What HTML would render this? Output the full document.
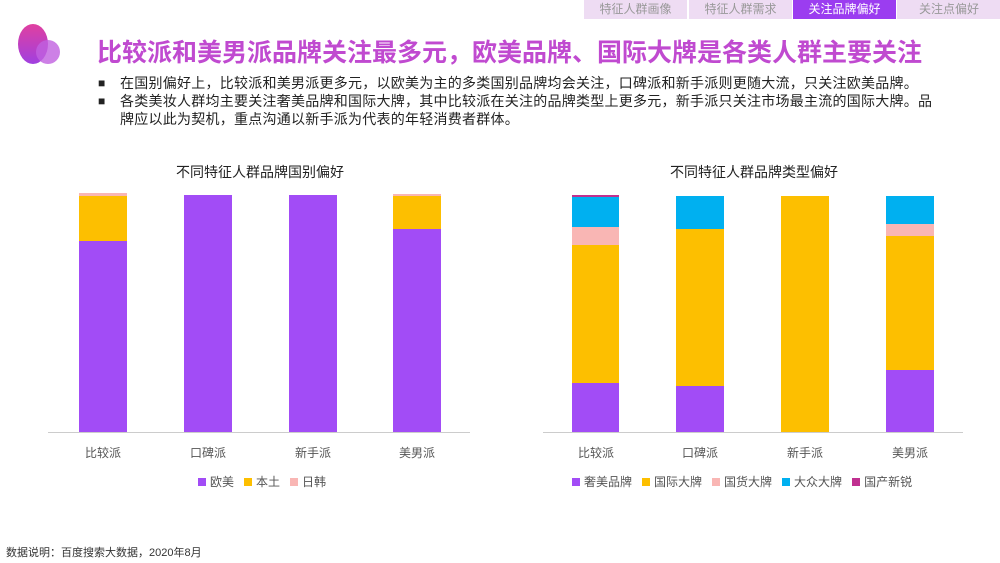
<!DOCTYPE html><html><head><meta charset="utf-8"><style>
body{margin:0;width:1000px;height:563px;background:#fff;position:relative;overflow:hidden;font-family:"Liberation Sans","Noto Sans CJK SC",sans-serif;}
.a{position:absolute}
.tab{position:absolute;top:0;height:19px;width:103px;background:#eedcf3;color:#999;font-size:12px;line-height:19px;text-align:center;border-left:1px solid #fff}
.b{position:absolute}
.lbl{position:absolute;font-size:12px;color:#555;width:80px;text-align:center;top:444px}
.leg{position:absolute;top:473px;font-size:12px;color:#555;white-space:nowrap}
.leg span{display:inline-block;width:8px;height:8px;margin:0 4px 0 10px}
.bl{position:relative;padding-left:22px}
.bl i{position:absolute;left:0;top:0;font-style:normal;font-size:12px}
</style></head><body>
<div class="tab" style="left:583px">特征人群画像</div>
<div class="tab" style="left:688px">特征人群需求</div>
<div class="tab" style="left:792px;background:#9b3df0;color:#fff">关注品牌偏好</div>
<div class="tab" style="left:896px;width:104px">关注点偏好</div>
<div class="a" style="left:18px;top:24px;width:30px;height:40px;border-radius:50%;background:linear-gradient(#e040a0,#a040e0)"></div>
<div class="a" style="left:36px;top:40px;width:24px;height:24px;border-radius:50%;background:#c060e0;opacity:.8"></div>
<div class="a" style="left:97px;top:33px;font-size:25px;font-weight:bold;color:#c04ad0;white-space:nowrap">比较派和美男派品牌关注最多元，欧美品牌、国际大牌是各类人群主要关注</div>
<div class="a" style="left:98px;top:74px;font-size:14px;letter-spacing:0.25px;color:#222;line-height:18px;width:862px">
<div class="bl"><i>■</i>在国别偏好上，比较派和美男派更多元，以欧美为主的多类国别品牌均会关注，口碑派和新手派则更随大流，只关注欧美品牌。</div>
<div class="bl"><i>■</i>各类美妆人群均主要关注奢美品牌和国际大牌，其中比较派在关注的品牌类型上更多元，新手派只关注市场最主流的国际大牌。品<br>牌应以此为契机，重点沟通以新手派为代表的年轻消费者群体。</div></div>
<div class="a" style="left:0;width:520px;top:162px;text-align:center;font-size:14px;color:#222">不同特征人群品牌国别偏好</div>
<div class="a" style="left:494px;width:520px;top:162px;text-align:center;font-size:14px;color:#222">不同特征人群品牌类型偏好</div>
<div class="a" style="left:48px;top:432px;width:422px;height:1px;background:#ccc"></div>
<div class="a" style="left:543px;top:432px;width:420px;height:1px;background:#ccc"></div>
<div class="b" style="left:79px;top:241px;width:48px;height:191px;background:#a24cf6"></div>
<div class="b" style="left:79px;top:196px;width:48px;height:45px;background:#fdbf00"></div>
<div class="b" style="left:79px;top:193px;width:48px;height:3px;background:#f9b6b4"></div>
<div class="b" style="left:184px;top:195px;width:48px;height:237px;background:#a24cf6"></div>
<div class="b" style="left:289px;top:195px;width:48px;height:237px;background:#a24cf6"></div>
<div class="b" style="left:393px;top:229px;width:48px;height:203px;background:#a24cf6"></div>
<div class="b" style="left:393px;top:196px;width:48px;height:33px;background:#fdbf00"></div>
<div class="b" style="left:393px;top:194px;width:48px;height:2px;background:#f9b6b4"></div>
<div class="b" style="left:572px;top:383px;width:47px;height:49px;background:#a24cf6"></div>
<div class="b" style="left:572px;top:245px;width:47px;height:138px;background:#fdbf00"></div>
<div class="b" style="left:572px;top:227px;width:47px;height:18px;background:#f9b6b4"></div>
<div class="b" style="left:572px;top:197px;width:47px;height:30px;background:#00b0f0"></div>
<div class="b" style="left:572px;top:195px;width:47px;height:2px;background:#c03090"></div>
<div class="b" style="left:676px;top:386px;width:48px;height:46px;background:#a24cf6"></div>
<div class="b" style="left:676px;top:229px;width:48px;height:157px;background:#fdbf00"></div>
<div class="b" style="left:676px;top:196px;width:48px;height:33px;background:#00b0f0"></div>
<div class="b" style="left:781px;top:196px;width:48px;height:236px;background:#fdbf00"></div>
<div class="b" style="left:886px;top:370px;width:48px;height:62px;background:#a24cf6"></div>
<div class="b" style="left:886px;top:236px;width:48px;height:134px;background:#fdbf00"></div>
<div class="b" style="left:886px;top:224px;width:48px;height:12px;background:#f9b6b4"></div>
<div class="b" style="left:886px;top:196px;width:48px;height:28px;background:#00b0f0"></div>
<div class="lbl" style="left:63px">比较派</div><div class="lbl" style="left:168px">口碑派</div><div class="lbl" style="left:273px">新手派</div><div class="lbl" style="left:377px">美男派</div>
<div class="lbl" style="left:556px">比较派</div><div class="lbl" style="left:660px">口碑派</div><div class="lbl" style="left:765px">新手派</div><div class="lbl" style="left:870px">美男派</div>
<div class="leg" style="left:188px"><span style="background:#a24cf6"></span>欧美<span style="background:#fdbf00"></span>本土<span style="background:#f9b6b4"></span>日韩</div>
<div class="leg" style="left:562px"><span style="background:#a24cf6"></span>奢美品牌<span style="background:#fdbf00"></span>国际大牌<span style="background:#f9b6b4"></span>国货大牌<span style="background:#00b0f0"></span>大众大牌<span style="background:#c03090"></span>国产新锐</div>
<div class="a" style="left:6px;top:544px;font-size:11px;color:#333">数据说明：百度搜索大数据，2020年8月</div>
</body></html>
